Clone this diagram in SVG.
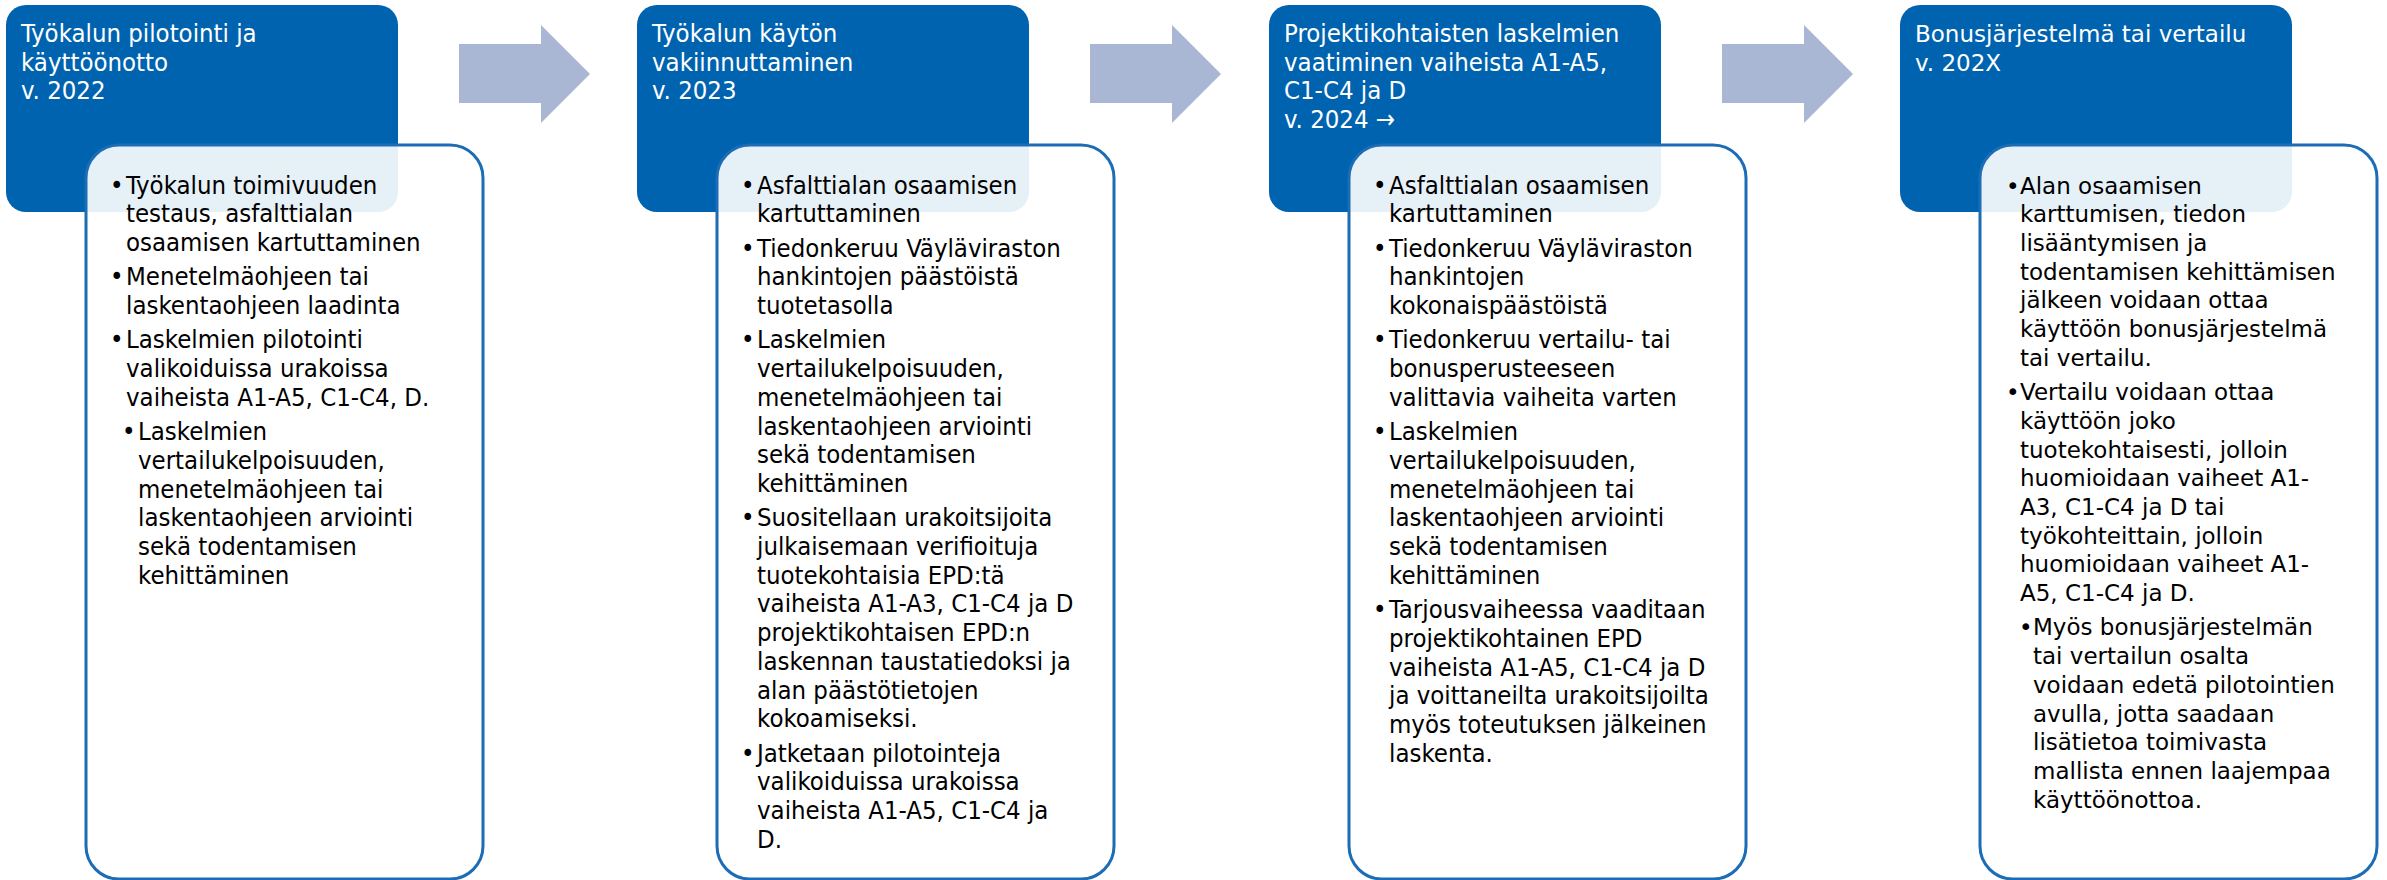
<svg xmlns="http://www.w3.org/2000/svg" width="2387" height="880" viewBox="0 0 2387 880">
<defs>
<style>
.hbox{fill:#0063AF;}
.wbox{fill:#FFFFFF;fill-opacity:0.9;stroke:#1C6DB6;stroke-width:3;}
.arr{fill:#A9B7D4;}
.t{font-family:"DejaVu Sans Condensed","DejaVu Sans",sans-serif;font-stretch:condensed;font-size:25.5px;}
.t4{font-family:"DejaVu Sans",Verdana,sans-serif;font-size:23px;}
.hd{fill:#FFFFFF;}
.bd{fill:#000000;}
</style>
</defs>
<rect width="2387" height="880" fill="#FFFFFF"/>
<g id="connectors">
<polygon class="arr" points="459,44 541,44 541,25 590,74 541,123 541,103 459,103"/>
<polygon class="arr" points="1090,44 1172,44 1172,25 1221,74 1172,123 1172,103 1090,103"/>
<polygon class="arr" points="1722,44 1804,44 1804,25 1853,74 1804,123 1804,103 1722,103"/>
</g>
<g id="stage1">
<rect class="hbox" x="6" y="5" width="392" height="207" rx="20"/>
<text class="t hd"><tspan x="21" y="42">Työkalun pilotointi ja</tspan><tspan x="21" y="70.7">käyttöönotto</tspan><tspan x="21" y="99.4">v. 2022</tspan></text>
<rect class="wbox" x="86" y="145" width="397" height="734" rx="33"/>
<text class="t bd">
<tspan x="110" y="193.5">•</tspan><tspan x="126" y="193.5">Työkalun toimivuuden</tspan><tspan x="126" y="222.2">testaus, asfalttialan</tspan><tspan x="126" y="250.9">osaamisen kartuttaminen</tspan>
<tspan x="110" y="285.3">•</tspan><tspan x="126" y="285.3">Menetelmäohjeen tai</tspan><tspan x="126" y="314">laskentaohjeen laadinta</tspan>
<tspan x="110" y="348.4">•</tspan><tspan x="126" y="348.4">Laskelmien pilotointi</tspan><tspan x="126" y="377.1">valikoiduissa urakoissa</tspan><tspan x="126" y="405.8">vaiheista A1-A5, C1-C4, D.</tspan>
<tspan x="122" y="440.2">•</tspan><tspan x="138" y="440.2">Laskelmien</tspan><tspan x="138" y="468.9">vertailukelpoisuuden,</tspan><tspan x="138" y="497.6">menetelmäohjeen tai</tspan><tspan x="138" y="526.3">laskentaohjeen arviointi</tspan><tspan x="138" y="555">sekä todentamisen</tspan><tspan x="138" y="583.7">kehittäminen</tspan>
</text>
</g>
<g id="stage2">
<rect class="hbox" x="637" y="5" width="392" height="207" rx="20"/>
<text class="t hd"><tspan x="652" y="42">Työkalun käytön</tspan><tspan x="652" y="70.7">vakiinnuttaminen</tspan><tspan x="652" y="99.4">v. 2023</tspan></text>
<rect class="wbox" x="717" y="145" width="397" height="734" rx="33"/>
<text class="t bd">
<tspan x="741" y="193.5">•</tspan><tspan x="757" y="193.5">Asfalttialan osaamisen</tspan><tspan x="757" y="222.2">kartuttaminen</tspan>
<tspan x="741" y="256.6">•</tspan><tspan x="757" y="256.6">Tiedonkeruu Väyläviraston</tspan><tspan x="757" y="285.3">hankintojen päästöistä</tspan><tspan x="757" y="314">tuotetasolla</tspan>
<tspan x="741" y="348.4">•</tspan><tspan x="757" y="348.4">Laskelmien</tspan><tspan x="757" y="377.1">vertailukelpoisuuden,</tspan><tspan x="757" y="405.8">menetelmäohjeen tai</tspan><tspan x="757" y="434.5">laskentaohjeen arviointi</tspan><tspan x="757" y="463.2">sekä todentamisen</tspan><tspan x="757" y="491.9">kehittäminen</tspan>
<tspan x="741" y="526.3">•</tspan><tspan x="757" y="526.3">Suositellaan urakoitsijoita</tspan><tspan x="757" y="555">julkaisemaan verifioituja</tspan><tspan x="757" y="583.7">tuotekohtaisia EPD:tä</tspan><tspan x="757" y="612.4">vaiheista A1-A3, C1-C4 ja D</tspan><tspan x="757" y="641.1">projektikohtaisen EPD:n</tspan><tspan x="757" y="669.8">laskennan taustatiedoksi ja</tspan><tspan x="757" y="698.5">alan päästötietojen</tspan><tspan x="757" y="727.2">kokoamiseksi.</tspan>
<tspan x="741" y="761.6">•</tspan><tspan x="757" y="761.6">Jatketaan pilotointeja</tspan><tspan x="757" y="790.3">valikoiduissa urakoissa</tspan><tspan x="757" y="819">vaiheista A1-A5, C1-C4 ja</tspan><tspan x="757" y="847.7">D.</tspan>
</text>
</g>
<g id="stage3">
<rect class="hbox" x="1269" y="5" width="392" height="207" rx="20"/>
<text class="t hd"><tspan x="1284" y="42">Projektikohtaisten laskelmien</tspan><tspan x="1284" y="70.7">vaatiminen vaiheista A1-A5,</tspan><tspan x="1284" y="99.4">C1-C4 ja D</tspan><tspan x="1284" y="128.1">v. 2024 →</tspan></text>
<rect class="wbox" x="1349" y="145" width="397" height="734" rx="33"/>
<text class="t bd">
<tspan x="1373" y="193.5">•</tspan><tspan x="1389" y="193.5">Asfalttialan osaamisen</tspan><tspan x="1389" y="222.2">kartuttaminen</tspan>
<tspan x="1373" y="256.6">•</tspan><tspan x="1389" y="256.6">Tiedonkeruu Väyläviraston</tspan><tspan x="1389" y="285.3">hankintojen</tspan><tspan x="1389" y="314">kokonaispäästöistä</tspan>
<tspan x="1373" y="348.4">•</tspan><tspan x="1389" y="348.4">Tiedonkeruu vertailu- tai</tspan><tspan x="1389" y="377.1">bonusperusteeseen</tspan><tspan x="1389" y="405.8">valittavia vaiheita varten</tspan>
<tspan x="1373" y="440.2">•</tspan><tspan x="1389" y="440.2">Laskelmien</tspan><tspan x="1389" y="468.9">vertailukelpoisuuden,</tspan><tspan x="1389" y="497.6">menetelmäohjeen tai</tspan><tspan x="1389" y="526.3">laskentaohjeen arviointi</tspan><tspan x="1389" y="555">sekä todentamisen</tspan><tspan x="1389" y="583.7">kehittäminen</tspan>
<tspan x="1373" y="618.1">•</tspan><tspan x="1389" y="618.1">Tarjousvaiheessa vaaditaan</tspan><tspan x="1389" y="646.8">projektikohtainen EPD</tspan><tspan x="1389" y="675.5">vaiheista A1-A5, C1-C4 ja D</tspan><tspan x="1389" y="704.2">ja voittaneilta urakoitsijoilta</tspan><tspan x="1389" y="732.9">myös toteutuksen jälkeinen</tspan><tspan x="1389" y="761.6">laskenta.</tspan>
</text>
</g>
<g id="stage4">
<rect class="hbox" x="1900" y="5" width="392" height="207" rx="20"/>
<text class="t4 hd"><tspan x="1915" y="42">Bonusjärjestelmä tai vertailu</tspan><tspan x="1915" y="70.7">v. 202X</tspan></text>
<rect class="wbox" x="1980" y="145" width="397" height="734" rx="33"/>
<text class="t4 bd">
<tspan x="2006" y="193.5">•</tspan><tspan x="2020" y="193.5">Alan osaamisen</tspan><tspan x="2020" y="222.2">karttumisen, tiedon</tspan><tspan x="2020" y="250.9">lisääntymisen ja</tspan><tspan x="2020" y="279.6">todentamisen kehittämisen</tspan><tspan x="2020" y="308.3">jälkeen voidaan ottaa</tspan><tspan x="2020" y="337">käyttöön bonusjärjestelmä</tspan><tspan x="2020" y="365.7">tai vertailu.</tspan>
<tspan x="2006" y="400.1">•</tspan><tspan x="2020" y="400.1">Vertailu voidaan ottaa</tspan><tspan x="2020" y="428.8">käyttöön joko</tspan><tspan x="2020" y="457.5">tuotekohtaisesti, jolloin</tspan><tspan x="2020" y="486.2">huomioidaan vaiheet A1-</tspan><tspan x="2020" y="514.9">A3, C1-C4 ja D tai</tspan><tspan x="2020" y="543.6">työkohteittain, jolloin</tspan><tspan x="2020" y="572.3">huomioidaan vaiheet A1-</tspan><tspan x="2020" y="601">A5, C1-C4 ja D.</tspan>
<tspan x="2019" y="635.4">•</tspan><tspan x="2033" y="635.4">Myös bonusjärjestelmän</tspan><tspan x="2033" y="664.1">tai vertailun osalta</tspan><tspan x="2033" y="692.8">voidaan edetä pilotointien</tspan><tspan x="2033" y="721.5">avulla, jotta saadaan</tspan><tspan x="2033" y="750.2">lisätietoa toimivasta</tspan><tspan x="2033" y="778.9">mallista ennen laajempaa</tspan><tspan x="2033" y="807.6">käyttöönottoa.</tspan>
</text>
</g>
</svg>
